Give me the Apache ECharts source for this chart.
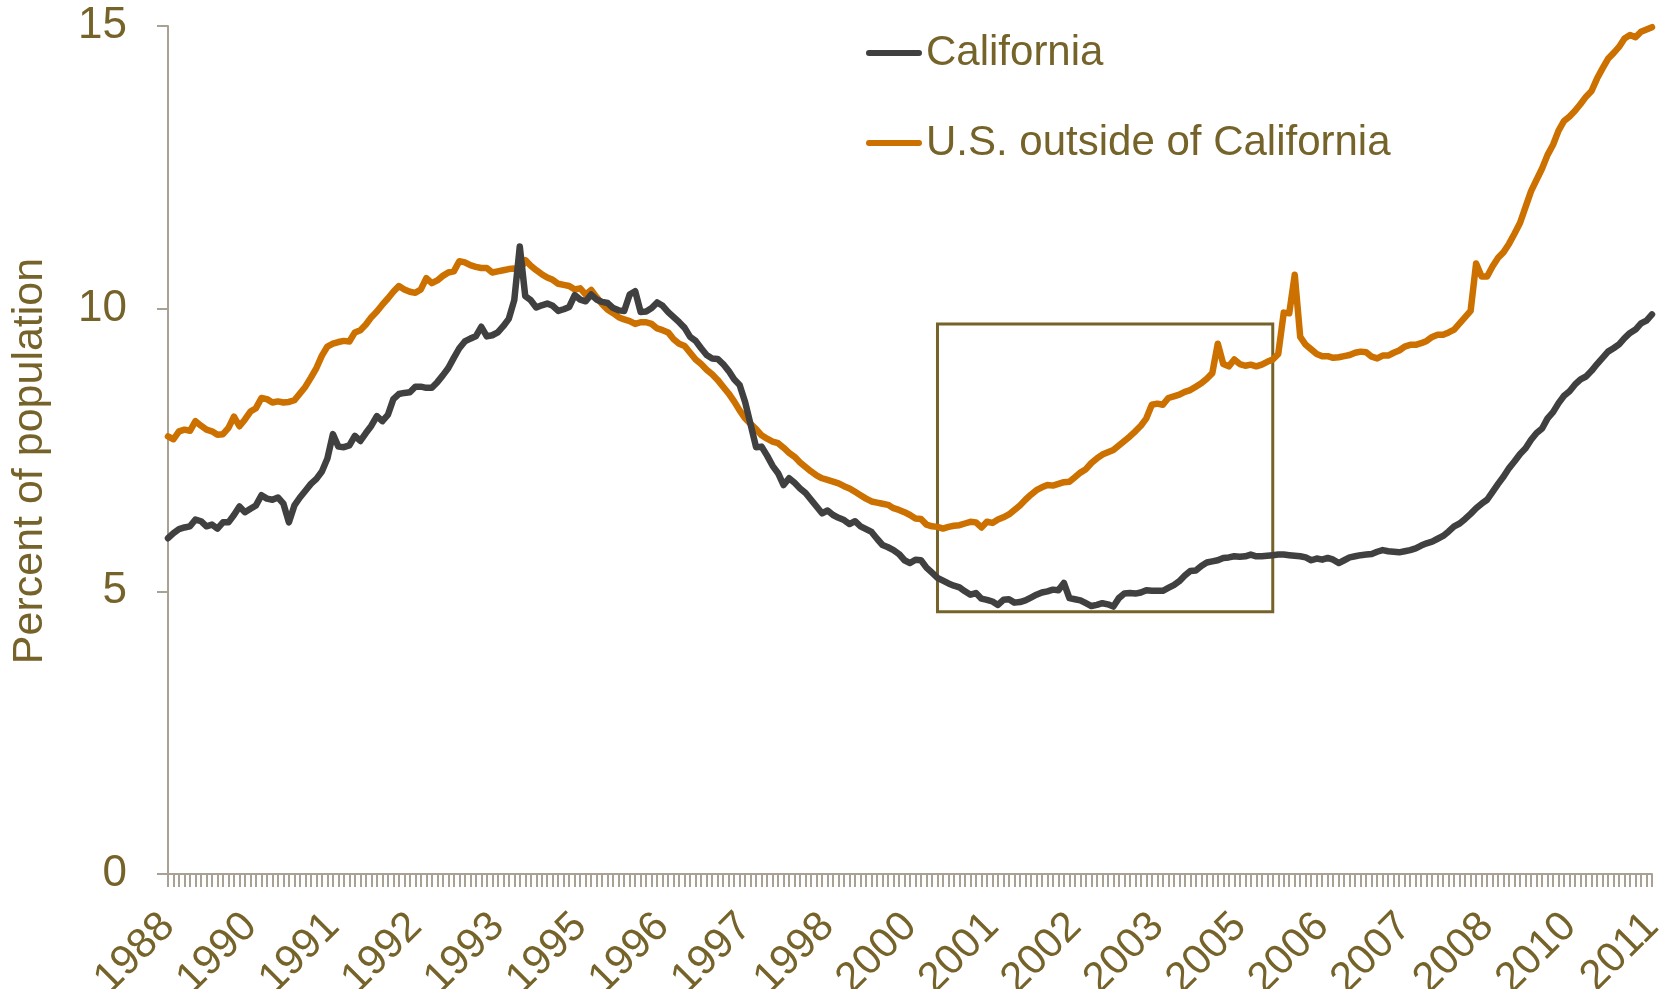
<!DOCTYPE html>
<html lang="en">
<head>
	<meta charset="UTF-8">
	<title>California vs rest of U.S.</title>
	<style>
		html, body { margin: 0; padding: 0; background: #fff; }
	</style>
</head>
<body>
	<div id='main' style="width:1665px;height:989px;"></div>
<script type="text/javascript" src="https://cdn.jsdelivr.net/npm/echarts/dist/echarts.min.js"></script>
<script type="text/javascript">
// monthly series, first month Oct 1988
var startYear = 1988, startMonth = 10, monthCount = 271;
var months = [];
for (var k = 0; k < monthCount; k++) {
    var m = startMonth - 1 + k;
    var yy = startYear + Math.floor(m / 12);
    var mm = (m % 12) + 1;
    months.push(yy + '-' + (mm < 10 ? '0' + mm : mm));
}

var seriesNames = ['California', 'U.S. outside of California'];

var california = [
    5.94, 6.03, 6.10, 6.13, 6.15, 6.27, 6.24, 6.15, 6.18, 6.11,
    6.22, 6.22, 6.35, 6.50, 6.40, 6.46, 6.52, 6.70, 6.64, 6.62,
    6.66, 6.55, 6.22, 6.52, 6.66, 6.78, 6.90, 6.99, 7.12, 7.35,
    7.78, 7.56, 7.55, 7.58, 7.75, 7.66, 7.80, 7.93, 8.10, 8.01,
    8.12, 8.40, 8.49, 8.51, 8.52, 8.62, 8.62, 8.60,
    8.60, 8.70, 8.82, 8.95, 9.13, 9.30, 9.42, 9.47, 9.51, 9.68, 9.51, 9.53,
    9.58, 9.69, 9.82, 10.15, 11.10, 10.22, 10.15, 10.02, 10.06, 10.09,
    10.05, 9.96, 9.99, 10.03, 10.24, 10.16, 10.13, 10.25, 10.16, 10.12,
    10.10, 10.01, 9.97, 9.96, 10.25, 10.31, 9.94, 9.95, 10.01, 10.11,
    10.05, 9.94, 9.85, 9.76, 9.66, 9.50,
    9.43, 9.30, 9.18, 9.12,
    9.11, 9.02, 8.90, 8.75, 8.65, 8.35, 7.95, 7.55, 7.56, 7.40,
    7.22, 7.09, 6.88, 7.00, 6.92, 6.82, 6.74, 6.62, 6.50, 6.38,
    6.43, 6.35, 6.30, 6.26, 6.19, 6.24, 6.15, 6.10, 6.05, 5.93,
    5.82, 5.78, 5.73, 5.66, 5.55, 5.50, 5.56, 5.55, 5.42, 5.33, 5.24,
    5.19, 5.14, 5.10, 5.07, 5.00, 4.94, 4.97, 4.87, 4.85, 4.82,
    4.76, 4.85, 4.86, 4.80, 4.81, 4.84, 4.89, 4.94, 4.98, 5.00,
    5.03, 5.02, 5.15, 4.88, 4.86, 4.84, 4.79, 4.74, 4.76, 4.79,
    4.77, 4.73, 4.88, 4.96, 4.97, 4.96, 4.98, 5.02, 5.01, 5.01,
    5.01, 5.06, 5.11, 5.18, 5.28, 5.36, 5.37,
    5.45, 5.51, 5.53, 5.55, 5.59, 5.60, 5.62, 5.61, 5.62, 5.65,
    5.62, 5.62, 5.63, 5.64, 5.65, 5.65, 5.64, 5.63, 5.62, 5.60,
    5.55, 5.58, 5.56, 5.59, 5.56, 5.50, 5.55, 5.60, 5.62, 5.64,
    5.65, 5.66, 5.70, 5.73, 5.71, 5.70, 5.69, 5.71, 5.73, 5.76,
    5.81, 5.85, 5.88, 5.93, 5.98, 6.06, 6.15, 6.20, 6.28, 6.37,
    6.47, 6.55, 6.62, 6.76, 6.90, 7.03, 7.18, 7.30, 7.43, 7.53,
    7.68, 7.80, 7.88, 8.06, 8.17, 8.33, 8.46, 8.54, 8.66, 8.75,
    8.80, 8.90, 9.02, 9.13, 9.24, 9.30, 9.37, 9.48, 9.57, 9.63,
    9.74, 9.79, 9.90
];

var usOutside = [
    7.74, 7.69, 7.83, 7.86, 7.84, 8.01, 7.93, 7.86, 7.83, 7.77,
    7.78, 7.89, 8.09, 7.92, 8.04, 8.18, 8.24, 8.42, 8.40, 8.34,
    8.36, 8.34, 8.35, 8.38, 8.50, 8.62, 8.78, 8.95, 9.17, 9.33,
    9.38, 9.41, 9.43, 9.42, 9.58, 9.62, 9.72, 9.85, 9.95, 10.07,
    10.18, 10.30, 10.40, 10.34, 10.30, 10.28, 10.34, 10.54,
    10.45, 10.50, 10.58, 10.64, 10.66, 10.84, 10.82, 10.77, 10.74, 10.72, 10.72, 10.64,
    10.66, 10.68, 10.70, 10.71, 10.67, 10.86, 10.76, 10.68, 10.61, 10.55,
    10.51, 10.44, 10.42, 10.40, 10.34, 10.36, 10.25, 10.33, 10.20, 10.08,
    9.98, 9.92, 9.85, 9.81, 9.78, 9.73, 9.76, 9.76, 9.73, 9.65,
    9.62, 9.58, 9.46, 9.38, 9.34, 9.22,
    9.10, 9.02, 8.92, 8.84,
    8.74, 8.62, 8.50, 8.36, 8.20, 8.06, 7.96, 7.87, 7.76, 7.70,
    7.65, 7.62, 7.54, 7.45, 7.38, 7.28, 7.20, 7.12, 7.05, 7.00,
    6.97, 6.94, 6.91, 6.86, 6.82, 6.76, 6.70, 6.64, 6.59, 6.57,
    6.55, 6.53, 6.47, 6.44, 6.40, 6.35, 6.29, 6.28, 6.18, 6.15, 6.14,
    6.11, 6.14, 6.16, 6.17, 6.20, 6.23, 6.22, 6.13, 6.23, 6.21,
    6.27, 6.31, 6.36, 6.44, 6.52, 6.62, 6.71, 6.79, 6.84, 6.88,
    6.87, 6.90, 6.93, 6.94, 7.02, 7.10, 7.16, 7.27, 7.35, 7.42,
    7.46, 7.50, 7.58, 7.66, 7.74, 7.83, 7.93, 8.06, 8.30, 8.32,
    8.30, 8.42, 8.45, 8.48, 8.53, 8.56, 8.62,
    8.68, 8.76, 8.86, 9.38, 9.02, 8.98, 9.10, 9.02, 8.99, 9.01,
    8.98, 9.01, 9.06, 9.10, 9.20, 9.93, 9.92, 10.60, 9.50, 9.36,
    9.28, 9.20, 9.16, 9.16, 9.13, 9.14, 9.16, 9.18, 9.22, 9.24,
    9.23, 9.15, 9.12, 9.17, 9.17, 9.22, 9.26, 9.33, 9.36, 9.36,
    9.39, 9.43, 9.50, 9.54, 9.54, 9.58, 9.63, 9.74, 9.85, 9.96,
    10.80, 10.57, 10.57, 10.75, 10.90, 11.00, 11.15, 11.33, 11.52, 11.80,
    12.08, 12.28, 12.48, 12.72, 12.90, 13.15, 13.32, 13.40, 13.50, 13.62,
    13.75, 13.85, 14.07, 14.25, 14.42, 14.52, 14.63, 14.78, 14.84, 14.80,
    14.90, 14.94, 14.98
];

// highlighted period (box)
var boxMonths = ['2000-06', '2005-07'];
var boxValues = [4.64, 9.73];

var olive = '#75632A';
var axisGrey = '#A8A194';
var font = '"Liberation Sans", Arial, sans-serif';
var legendIcon = 'path://M3,0 L54,0 A3,3 0 0 1 54,6 L3,6 A3,3 0 0 1 3,0 Z';

var option = {
    animation: false,
    backgroundColor: '#ffffff',
    grid: { left: 168, right: 13, top: 26, bottom: 115, outerBoundsMode: 'none', containLabel: false },
    legend: {
        orient: 'vertical',
        left: 861,
        top: 27,
        itemWidth: 56,
        itemHeight: 8,
        itemGap: 48,
        icon: legendIcon,
        textStyle: { color: olive, fontSize: 42, fontFamily: font, padding: [0, 0, 0, -1] },
        data: seriesNames
    },
    xAxis: {
        type: 'category',
        boundaryGap: false,
        data: months,
        axisLine: { lineStyle: { color: axisGrey, width: 2 } },
        axisTick: { show: true, interval: 0, length: 13, lineStyle: { color: axisGrey, width: 2 } },
        axisLabel: {
            interval: 14,
            rotate: 45,
            margin: 46,
            verticalAlign: 'middle',
            color: olive,
            fontSize: 42,
            fontFamily: font,
            formatter: function (v) { return v.slice(0, 4); }
        },
        splitLine: { show: false }
    },
    yAxis: {
        type: 'value',
        min: 0,
        max: 15,
        interval: 5,
        name: 'Percent of population',
        nameLocation: 'middle',
        nameGap: 116,
        nameTextStyle: { color: olive, fontSize: 43, fontFamily: font, padding: [0, 22, 0, 0] },
        axisLine: { show: true, lineStyle: { color: axisGrey, width: 2 } },
        axisTick: { show: true, length: 11, lineStyle: { color: axisGrey, width: 2 } },
        axisLabel: { margin: 41, color: olive, fontSize: 44, fontFamily: font },
        splitLine: { show: false }
    },
    series: [
        {
            name: seriesNames[0],
            type: 'line',
            data: california,
            showSymbol: false,
            symbol: 'none',
            z: 3,
            itemStyle: { color: '#404040' },
            lineStyle: { color: '#404040', width: 6.5, cap: 'round', join: 'round' },
            markArea: {
                silent: true,
                itemStyle: { color: 'rgba(0,0,0,0)', borderColor: olive, borderWidth: 3 },
                data: [[
                    { xAxis: boxMonths[0], yAxis: boxValues[0] },
                    { xAxis: boxMonths[1], yAxis: boxValues[1] }
                ]]
            }
        },
        {
            name: seriesNames[1],
            type: 'line',
            data: usOutside,
            showSymbol: false,
            symbol: 'none',
            z: 2,
            itemStyle: { color: '#CC7000' },
            lineStyle: { color: '#CC7000', width: 6.5, cap: 'round', join: 'round' }
        }
    ]
};

var myChart = echarts.init(document.getElementById('main'));
myChart.setOption(option);
</script>
</body>
</html>
